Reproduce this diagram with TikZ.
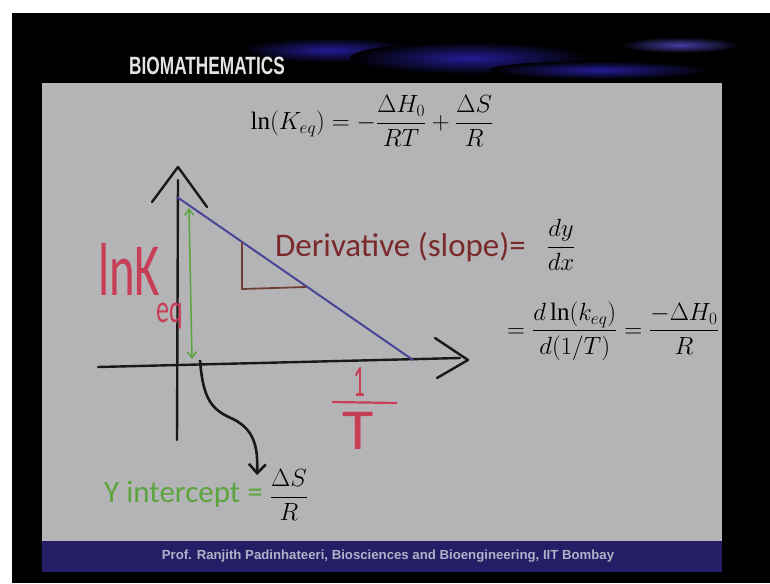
\documentclass[tikz,border=0pt]{standalone}
\usepackage{amsmath}
\usepackage{fontspec}
\setmainfont{Liberation Serif}
\newfontfamily\slidefont{Carlito}
\newfontfamily\headfont{Liberation Sans}
\usetikzlibrary{arrows.meta}

\definecolor{panelgray}{RGB}{180,180,182}
\definecolor{footnavy}{RGB}{36,30,102}
\definecolor{streakblue}{RGB}{36,28,150}
\definecolor{slopered}{RGB}{122,42,42}
\definecolor{penred}{RGB}{200,62,86}
\definecolor{pengreen}{RGB}{92,164,62}
\definecolor{penblue}{RGB}{72,70,150}
\definecolor{penbrown}{RGB}{112,62,52}

\tikzset{
  slidetxt/.style={inner sep=0pt,font=\slidefont\fontsize{33}{38}\selectfont},
  mathtxt/.style={inner sep=0pt,font=\fontsize{25}{30}\selectfont},
  handtxt/.style={inner sep=0pt,text=penred,font=\slidefont\fontsize{75}{80}\selectfont,xscale=0.65},
  axis/.style={line width=2.4pt,black!90,line cap=round,line join=round}
}

\begin{document}
\begin{tikzpicture}[x=1pt,y=-1pt]
    \useasboundingbox (0,0) rectangle (770,583);
    \fill[white] (0,0) rectangle (770,583);
    \fill[black] (12,13) rectangle (770,583);
    % header streaks
    \shade[inner color=streakblue,outer color=black] (330,50) ellipse (90 and 12);
    \shade[inner color=streakblue,outer color=black] (470,58) ellipse (120 and 16);
    \shade[inner color=streakblue!85!white,outer color=black] (680,45) ellipse (60 and 8);
    \shade[inner color=streakblue,outer color=black] (600,70) ellipse (110 and 9);
    \node[inner sep=0pt,text=white!78!gray,font=\headfont\bfseries\fontsize{25}{25}\selectfont,xscale=0.69] (head) at (207,66) {BIOMATHEMATICS};
    \fill[panelgray] (42,83) rectangle (722,541);
    \fill[footnavy] (42,541) rectangle (722,572);
    \node[inner sep=0pt,text=white!65!footnavy,font=\headfont\bfseries\fontsize{13.2}{13.2}\selectfont] (credit) at (388,556) {Prof. Ranjith Padinhateeri, Biosciences and Bioengineering, IIT Bombay};

    \node[mathtxt] (eqtop) at (372,121) {$\ln\!\left(K_{eq}\right) = -\dfrac{\Delta H_0}{RT} + \dfrac{\Delta S}{R}$};

    % axes
    \coordinate (ytop) at (178,180);
    \coordinate (ybot) at (177,440);
    \coordinate (xleft) at (98,367);
    \coordinate (xright) at (460,358);
    \draw[axis] (ybot) -- (ytop);
    \draw[axis] (152,202) -- (178,167) -- (207,207);
    \draw[axis] (xleft) -- (xright);
    \draw[axis] (435,338) -- (468,360) -- (437,378);

    % fitted line and slope triangle
    \coordinate (lstart) at (177,197);
    \coordinate (lend) at (413,360);
    \draw[penblue,line width=2pt] (lstart) -- (lend);
    \draw[penbrown,line width=1.8pt] (242,242) -- (242,289) -- (306,287);
    \draw[pengreen,line width=1.5pt,{Straight Barb[length=6pt,width=9pt]}-{Straight Barb[length=6pt,width=9pt]}] (189,208) -- (192,359);

    % handwritten labels
    \node[handtxt,anchor=base west] (lnk) at (98,295) {lnK\hspace{-6pt}\raisebox{-27pt}{\fontsize{40}{40}\selectfont eq}};
    \node[handtxt,font=\slidefont\fontsize{45}{45}\selectfont,xscale=0.8] (one) at (359,382) {1};
    \draw[penred,line width=2.2pt] (332,402) -- (397,403);
    \node[handtxt,font=\slidefont\fontsize{58}{58}\selectfont,xscale=1.7,anchor=north] (tee) at (358,412) {T};

    \node[slidetxt,text=slopered,anchor=west] (deriv) at (275,247) {Derivative (slope)=};
    \node[mathtxt] (dydx) at (561,245) {$\dfrac{dy}{dx}$};
    \node[mathtxt] (eqtwo) at (613,331) {$= \dfrac{d\ln(k_{eq})}{d(1/T)} = \dfrac{-\Delta H_0}{R}$};

    \node[slidetxt,text=pengreen,anchor=east,font=\slidefont\fontsize{31}{36}\selectfont] (yint) at (263,494) {Y intercept =};
    \node[mathtxt] (dsr) at (289,495) {$\dfrac{\Delta S}{R}$};

    \coordinate (cstart) at (200,360);
    \coordinate (ctip) at (257,475);
    \draw[line width=2.6pt,black!90,-{Straight Barb[length=9pt,width=17pt]}] (cstart) .. controls (203,400) and (212,410) .. (233,419) .. controls (255,430) and (258,448) .. (ctip);
\end{tikzpicture}
\end{document}
